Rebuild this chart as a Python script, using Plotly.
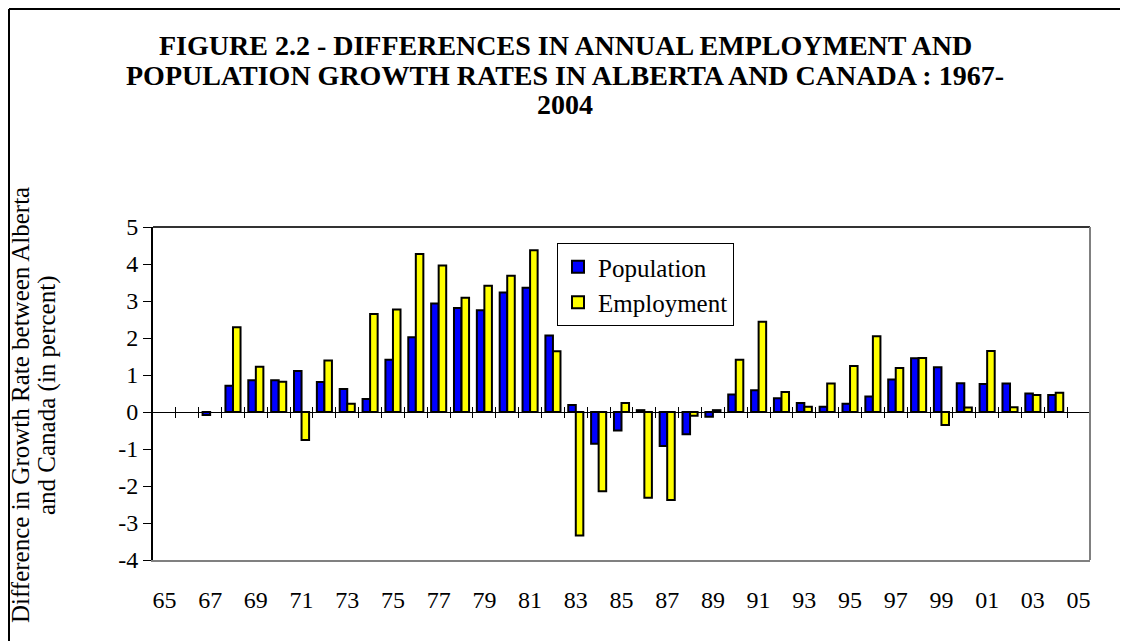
import plotly.graph_objects as go

# ---- data ----
years = [1967, 1968, 1969, 1970, 1971, 1972, 1973, 1974, 1975, 1976,
         1977, 1978, 1979, 1980, 1981, 1982, 1983, 1984, 1985, 1986,
         1987, 1988, 1989, 1990, 1991, 1992, 1993, 1994, 1995, 1996,
         1997, 1998, 1999, 2000, 2001, 2002, 2003, 2004]
population = [-0.08, 0.71, 0.86, 0.86, 1.11, 0.81, 0.62, 0.35, 1.41, 2.02,
              2.93, 2.81, 2.75, 3.23, 3.36, 2.07, 0.19, -0.86, -0.50, 0.05,
              -0.92, -0.60, -0.13, 0.47, 0.59, 0.37, 0.24, 0.14, 0.22, 0.42,
              0.88, 1.45, 1.21, 0.78, 0.76, 0.77, 0.50, 0.46]
employment = [None, 2.29, 1.22, 0.82, -0.76, 1.39, 0.22, 2.65, 2.77, 4.27,
              3.96, 3.09, 3.41, 3.68, 4.37, 1.64, -3.34, -2.14, 0.24, -2.32,
              -2.38, -0.10, 0.05, 1.41, 2.44, 0.54, 0.14, 0.77, 1.24, 2.05,
              1.19, 1.46, -0.35, 0.12, 1.65, 0.13, 0.46, 0.52]

x_tick_vals = [1965, 1967, 1969, 1971, 1973, 1975, 1977, 1979, 1981, 1983,
               1985, 1987, 1989, 1991, 1993, 1995, 1997, 1999, 2001, 2003, 2005]
x_tick_text = ["65", "67", "69", "71", "73", "75", "77", "79", "81", "83",
               "85", "87", "89", "91", "93", "95", "97", "99", "01", "03", "05"]
y_tick_vals = [-4, -3, -2, -1, 0, 1, 2, 3, 4, 5]
y_tick_text = ["-4", "-3", "-2", "-1", "0", "1", "2", "3", "4", "5"]
boundary_ticks = [y + 0.5 for y in range(1965, 2005)]

title_lines = ["FIGURE 2.2 - DIFFERENCES IN ANNUAL EMPLOYMENT AND",
               "POPULATION GROWTH RATES IN ALBERTA AND CANADA : 1967-",
               "2004"]
y_title_lines = ["Difference in Growth Rate between Alberta",
                 "and Canada (in percent)"]

X_RANGE = [1964.5, 2005.5]
Y_RANGE = [-4, 5]

FONT = "Liberation Serif, Times New Roman, serif"

# page has an 8px body margin; figure is sized so it fits the window
W, H = 1120, 633
L, T, R, B = 145, 219, 38, 81
PW, PH = W - L - R, H - T - B   # 937 x 333


def px_x(sx):  # screen x -> paper x
    return (sx - 8 - L) / PW


def px_y(sy):  # screen y -> paper y
    return (H - B - (sy - 8)) / PH


fig = go.Figure()
fig.add_trace(go.Bar(x=years, y=population, name="Population",
                     marker=dict(color="#0000FF", line=dict(color="black", width=2)),
                     legendgroup="p"))
fig.add_trace(go.Bar(x=years, y=employment, name="Employment",
                     marker=dict(color="#FFFF00", line=dict(color="black", width=2)),
                     legendgroup="e"))

zero_pos = (0 - Y_RANGE[0]) / (Y_RANGE[1] - Y_RANGE[0])

fig.update_layout(
    width=W, height=H,
    margin=dict(l=L, r=R, t=T, b=B, autoexpand=False),
    paper_bgcolor="white", plot_bgcolor="white",
    font=dict(family=FONT, size=24, color="black"),
    barmode="group", bargap=0.34, bargroupgap=0,
    showlegend=True,
    legend=dict(x=px_x(557), y=px_y(243), xanchor="left", yanchor="top",
                bgcolor="white", bordercolor="black", borderwidth=1,
                font=dict(family=FONT, size=25), tracegroupgap=7,
                traceorder="normal"),
    xaxis=dict(range=X_RANGE, tickvals=x_tick_vals, ticktext=x_tick_text,
               showgrid=False, zeroline=False, showline=True,
               linecolor="#808080", linewidth=2,
               ticks="outside", ticklen=17, tickcolor="rgba(0,0,0,0)",
               tickfont=dict(family=FONT, size=24)),
    xaxis2=dict(overlaying="x", anchor="free", position=zero_pos,
                range=X_RANGE, tickvals=boundary_ticks, showticklabels=False,
                showgrid=False, zeroline=False, showline=True,
                linecolor="black", linewidth=1,
                ticks="outside", ticklen=5, tickcolor="black", tickwidth=1),
    xaxis3=dict(overlaying="x", anchor="free", position=zero_pos,
                range=X_RANGE, tickvals=boundary_ticks, showticklabels=False,
                showgrid=False, zeroline=False, showline=False,
                ticks="inside", ticklen=5, tickcolor="black", tickwidth=1),
    yaxis=dict(range=Y_RANGE, tickvals=y_tick_vals, ticktext=y_tick_text,
               showgrid=False, zeroline=True, zerolinecolor="black",
               zerolinewidth=1, showline=True, linecolor="black", linewidth=2,
               ticks="outside", ticklen=8, tickcolor="black", tickwidth=1,
               tickfont=dict(family=FONT, size=24)),
)

# invisible traces so the overlay axes at y=0 are drawn
fig.add_trace(go.Scatter(x=[None], y=[None], xaxis="x2", showlegend=False, hoverinfo="skip"))
fig.add_trace(go.Scatter(x=[None], y=[None], xaxis="x3", showlegend=False, hoverinfo="skip"))

# plot-area frame (top dark, right gray)
fig.add_shape(type="line", xref="paper", yref="paper", x0=0, x1=1, y0=1, y1=1,
              line=dict(color="#333333", width=2))
fig.add_shape(type="line", xref="paper", yref="paper", x0=1, x1=1, y0=0, y1=1,
              line=dict(color="#808080", width=2))
# outer chart frame (top and left)
fig.add_shape(type="line", xref="paper", yref="paper",
              x0=px_x(9), x1=px_x(1200), y0=px_y(9), y1=px_y(9),
              line=dict(color="black", width=2))
fig.add_shape(type="line", xref="paper", yref="paper",
              x0=px_x(9), x1=px_x(9), y0=px_y(700), y1=px_y(9),
              line=dict(color="black", width=2))

# title (three centred lines)
for line, cy in zip(title_lines, [46, 75, 104]):
    fig.add_annotation(text="<b>" + line + "</b>", xref="paper", yref="paper",
                       x=px_x(565), y=px_y(cy), xanchor="center", yanchor="middle",
                       showarrow=False, font=dict(family=FONT, size=28, color="black"))

# y-axis title (two rotated lines)
for line, cx, cy in zip(y_title_lines, [20, 47], [405, 396]):
    fig.add_annotation(text=line, textangle=-90, xref="paper", yref="paper",
                       x=px_x(cx), y=px_y(cy), xanchor="center", yanchor="middle",
                       showarrow=False, font=dict(family=FONT, size=25, color="black"))

fig.write_html("out.html")
